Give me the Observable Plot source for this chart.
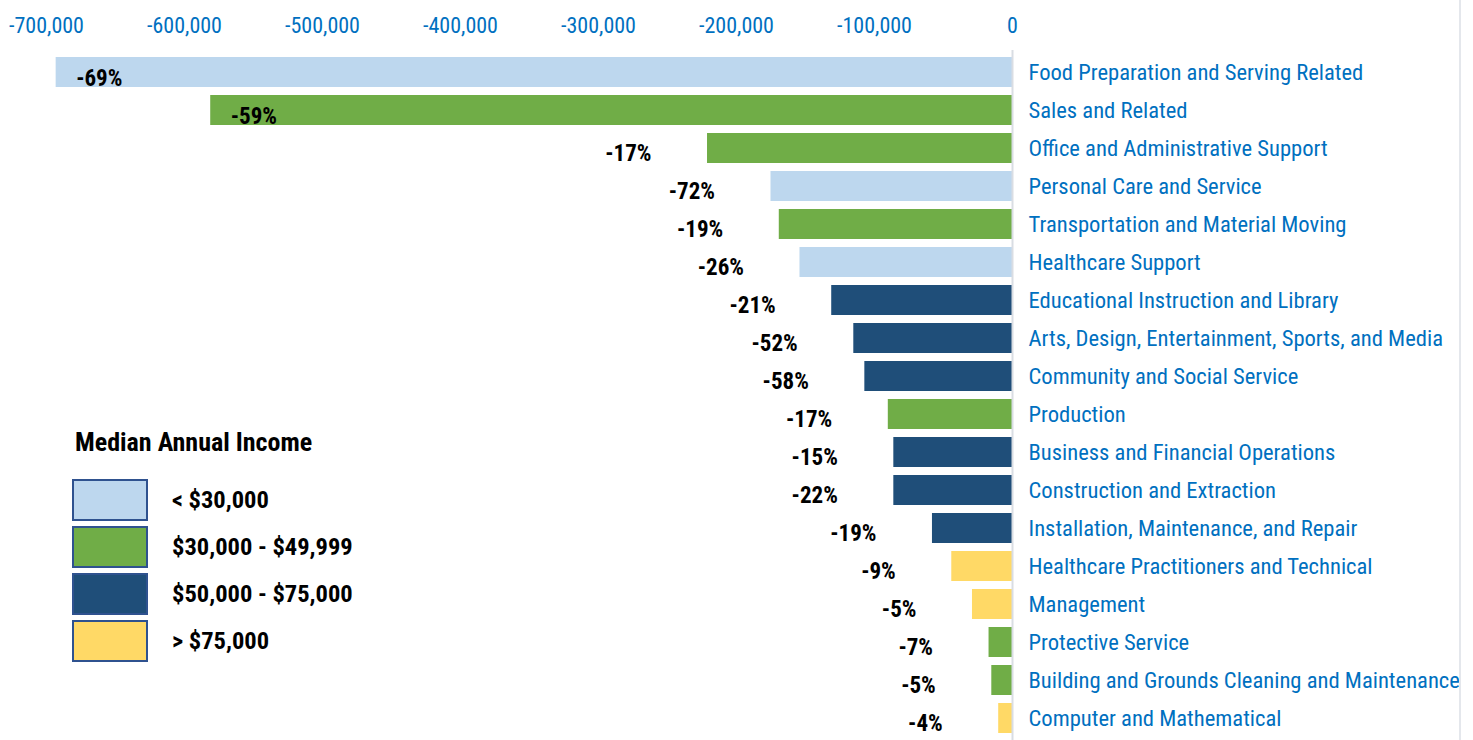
<!DOCTYPE html>
<html>
<head>
<meta charset="utf-8">
<script src="https://cdn.jsdelivr.net/npm/d3@7"></script>
<script src="https://cdn.jsdelivr.net/npm/@observablehq/plot@0.6"></script>
<style>
  body { margin: 0; background: #fff; }
  #wrap { position: relative; width: 1473px; height: 740px; overflow: hidden;
          font-family: "Liberation Sans Narrow", "Arial Narrow", "Roboto Condensed", sans-serif; }
  #border { position: absolute; left: 1459px; top: 0; width: 2px; height: 740px; background: #e4e7ec; }
  #legend { position: absolute; left: 72px; top: 426px; }
  #legend .title { font-weight: bold; font-size: 26px; color: #000; margin-left: 3px; height: 50px; line-height: 32px; }
  #legend .row { display: flex; align-items: center; height: 47px; }
  #legend .box { width: 72px; height: 38px; border: 2px solid #2F528F; box-sizing: content-box; }
  #legend .lab { font-weight: bold; font-size: 24.5px; color: #000; margin-left: 24px; }
</style>
</head>
<body>
<div id="wrap"><div id="border"></div><div id="legend"></div></div>
<script>
// ---- data ----
const categories = [
  "Food Preparation and Serving Related",
  "Sales and Related",
  "Office and Administrative Support",
  "Personal Care and Service",
  "Transportation and Material Moving",
  "Healthcare Support",
  "Educational Instruction and Library",
  "Arts, Design, Entertainment, Sports, and Media",
  "Community and Social Service",
  "Production",
  "Business and Financial Operations",
  "Construction and Extraction",
  "Installation, Maintenance, and Repair",
  "Healthcare Practitioners and Technical",
  "Management",
  "Protective Service",
  "Building and Grounds Cleaning and Maintenance",
  "Computer and Mathematical"
];
const jobChange = [
  -693000, -581000, -221000, -175000, -169000, -154000, -131000, -115000, -107000,
  -90000, -86000, -86000, -58000, -44000, -29000, -17000, -15000, -10000
];
const pctChange = [-69, -59, -17, -72, -19, -26, -21, -52, -58, -17, -15, -22, -19, -9, -5, -7, -5, -4];
const incomeLabels = ["< $30,000", "$30,000 - $49,999", "$50,000 - $75,000", "> $75,000"];
const incomeColors = ["#BDD7EE", "#70AD47", "#1F4E79", "#FFD966"];
const incomeGroup = [
  "< $30,000", "$30,000 - $49,999", "$30,000 - $49,999", "< $30,000", "$30,000 - $49,999",
  "< $30,000", "$50,000 - $75,000", "$50,000 - $75,000", "$50,000 - $75,000", "$30,000 - $49,999",
  "$50,000 - $75,000", "$50,000 - $75,000", "$50,000 - $75,000", "> $75,000", "> $75,000",
  "$30,000 - $49,999", "$30,000 - $49,999", "> $75,000"
];
const xTicks = [-700000, -600000, -500000, -400000, -300000, -200000, -100000, 0];
const legendTitle = "Median Annual Income";

const data = categories.map((c, i) => ({category: c, value: jobChange[i], pct: pctChange[i], group: incomeGroup[i]}));
const longBar = d => d.value < -500000;

const font = "'Liberation Sans Narrow', 'Arial Narrow', 'Roboto Condensed', sans-serif";
const blue = "#0070C0";

const chart = Plot.plot({
  width: 1473,
  height: 740,
  marginLeft: 46,
  marginRight: 461,
  marginTop: 50,
  marginBottom: 0,
  style: {fontFamily: font, background: "transparent", overflow: "visible"},
  x: {domain: [-700000, 0]},
  y: {domain: categories, paddingInner: 0.21, paddingOuter: 0.12},
  color: {domain: incomeLabels, range: incomeColors},
  marks: [
    Plot.barX(data, {x: "value", y: "category", fill: "group"}),
    Plot.ruleX([0], {stroke: "#d9dde3", strokeWidth: 2}),
    Plot.axisX({anchor: "top", ticks: xTicks, tickFormat: d => d.toLocaleString("en-US"),
      tickSize: 0, tickPadding: 18, color: blue, fontSize: 22, label: null}),
    Plot.axisY({anchor: "right", tickSize: 0, tickPadding: 16, color: blue, fontSize: 22.6, label: null}),
    Plot.text(data.filter(d => !longBar(d)), {x: "value", y: "category", text: d => `${d.pct}%`,
      textAnchor: "end", dx: -56, dy: 5, fontWeight: "bold", fontSize: 23, fill: "#000"}),
    Plot.text(data.filter(longBar), {x: "value", y: "category", text: d => `${d.pct}%`,
      textAnchor: "start", dx: 20, dy: 6, fontWeight: "bold", fontSize: 23, fill: "#000"})
  ]
});
const wrap = document.getElementById("wrap");
wrap.insertBefore(chart, wrap.firstChild);

// legend (HTML, built from the arrays)
const lg = document.getElementById("legend");
const t = document.createElement("div");
t.className = "title"; t.textContent = legendTitle; lg.appendChild(t);
incomeLabels.forEach((lab, i) => {
  const row = document.createElement("div"); row.className = "row";
  const box = document.createElement("div"); box.className = "box"; box.style.background = incomeColors[i];
  const tx = document.createElement("div"); tx.className = "lab"; tx.textContent = lab;
  row.appendChild(box); row.appendChild(tx); lg.appendChild(row);
});
</script>
</body>
</html>
